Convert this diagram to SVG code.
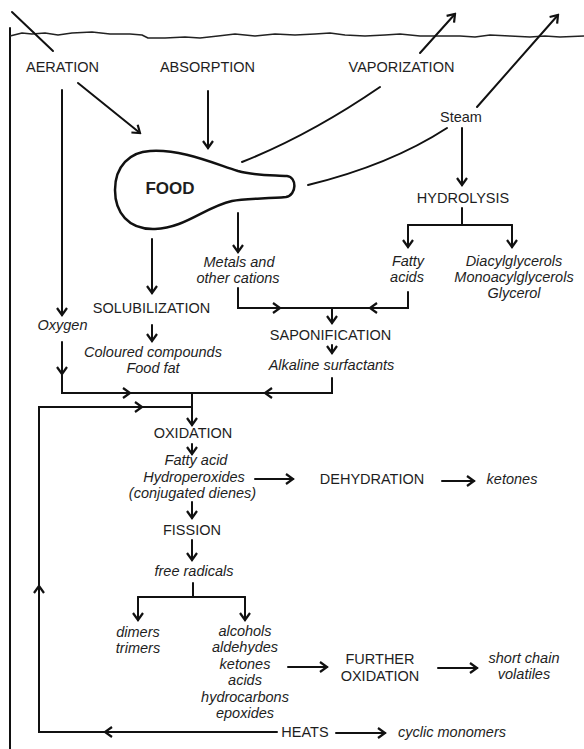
<svg xmlns="http://www.w3.org/2000/svg" width="584" height="749" viewBox="0 0 584 749">
<defs>
<style>
.t{font-family:"Liberation Sans",Arial,sans-serif;font-size:14.5px;fill:#1e1e1e;text-anchor:middle}
.i{font-style:italic}
.b{font-weight:bold;font-size:17px}
.ln{fill:none;stroke:#111;stroke-width:2;stroke-linecap:round;stroke-linejoin:miter}
.a{marker-end:url(#ah)}
</style>
<marker id="ah" viewBox="-10 -7 12 14" refX="0" refY="0" markerWidth="12" markerHeight="14" markerUnits="userSpaceOnUse" orient="auto">
<path d="M-7,-5 L0,0 L-7,5" fill="none" stroke="#111" stroke-width="2.2" stroke-linejoin="miter"/>
</marker>
</defs>
<rect width="584" height="749" fill="#fff"/>

<g id="scene">
<path d="M10,28 L10,749" class="ln" stroke-width="1.6"/>
<path d="M10,36 L22,33 L32,34 L45,33 L58,35 L72,33 L92,32 L110,34 L130,34 L142,35 L148,38 L165,38 L185,37 L200,38 L218,36 L235,34 L255,36 L275,34 L295,35 L315,34 L330,33 L345,35 L365,36 L385,35 L400,34 L420,36 L440,36 L460,36 L475,37 L490,35 L510,36 L530,37 L545,36 L560,37 L584,36" fill="none" stroke="#222" stroke-width="1.5" stroke-linejoin="round"/>
<path d="M12,12 L53,51" class="ln"/>
</g>

<g id="food">
<path d="M150,151 C180,149 210,162 238,171 C255,176 275,175 287,176 C297,177 297,195 286,197 C265,199 245,198 232,201 C205,207 185,228 155,229 C128,230 115,212 115,190 C115,166 130,152 150,151 Z" fill="none" stroke="#111" stroke-width="2.5"/>
<text class="t b" x="170" y="194">FOOD</text>
</g>

<g id="aeration"><text class="t" x="62.5" y="72">AERATION</text></g>
<g id="absorption"><text class="t" x="207.5" y="72">ABSORPTION</text></g>
<g id="vaporization"><text class="t" x="401.5" y="72">VAPORIZATION</text></g>
<g id="steam"><text class="t" x="461" y="122">Steam</text></g>
<g id="hydrolysis"><text class="t" x="463" y="203">HYDROLYSIS</text></g>
<g id="fatty-acids"><text class="t i" x="408" y="266">Fatty</text><text class="t i" x="407" y="282">acids</text></g>
<g id="glycerols"><text class="t i" x="514" y="266">Diacylglycerols</text><text class="t i" x="514" y="282">Monoacylglycerols</text><text class="t i" x="514" y="298">Glycerol</text></g>
<g id="metals"><text class="t i" x="239" y="267">Metals and</text><text class="t i" x="238" y="283">other cations</text></g>
<g id="solubilization"><text class="t" x="151.5" y="313">SOLUBILIZATION</text></g>
<g id="oxygen"><text class="t i" x="62.5" y="330">Oxygen</text></g>
<g id="saponification"><text class="t" x="330.5" y="340">SAPONIFICATION</text></g>
<g id="coloured"><text class="t i" x="153" y="357">Coloured compounds</text><text class="t i" x="153" y="373">Food fat</text></g>
<g id="alkaline"><text class="t i" x="331.5" y="370">Alkaline surfactants</text></g>
<g id="oxidation"><text class="t" x="193" y="438">OXIDATION</text></g>
<g id="hydroperoxides"><text class="t i" x="196" y="465">Fatty acid</text><text class="t i" x="194" y="482">Hydroperoxides</text><text class="t i" x="192.5" y="498">(conjugated dienes)</text></g>
<g id="dehydration"><text class="t" x="372" y="484">DEHYDRATION</text></g>
<g id="ketones1"><text class="t i" x="512" y="484">ketones</text></g>
<g id="fission"><text class="t" x="192" y="535">FISSION</text></g>
<g id="free-radicals"><text class="t i" x="194" y="576">free radicals</text></g>
<g id="dimers"><text class="t i" x="138" y="637">dimers</text><text class="t i" x="138" y="653">trimers</text></g>
<g id="products"><text class="t i" x="245" y="636">alcohols</text><text class="t i" x="245" y="652">aldehydes</text><text class="t i" x="245" y="669">ketones</text><text class="t i" x="245" y="685">acids</text><text class="t i" x="245" y="702">hydrocarbons</text><text class="t i" x="245" y="718">epoxides</text></g>
<g id="further-oxidation"><text class="t" x="380" y="664">FURTHER</text><text class="t" x="380" y="681">OXIDATION</text></g>
<g id="short-chain"><text class="t i" x="524" y="663">short chain</text><text class="t i" x="524" y="679">volatiles</text></g>
<g id="heats"><text class="t" x="305" y="737">HEATS</text></g>
<g id="cyclic"><text class="t i" x="452" y="737">cyclic monomers</text></g>

<g id="connectors">
<path class="ln a" d="M78,83 L140,133"/>
<path class="ln a" d="M62,90 L62,315"/>
<path class="ln a" d="M208,91 L208,148"/>
<path class="ln" d="M242,162 Q310,135 380,87"/>
<path class="ln a" d="M420,53 L455,14"/>
<path class="ln a" d="M477,107 L558,15"/>
<path class="ln" d="M308,185 Q390,165 447,128"/>
<path class="ln a" d="M462,128 L462,185"/>
<path class="ln" d="M462,208 L462,225"/>
<path class="ln" d="M408,225 L512,225"/>
<path class="ln a" d="M408,225 L408,247"/>
<path class="ln a" d="M512,225 L512,247"/>
<path class="ln a" d="M238,213 L238,252"/>
<path class="ln a" d="M152,239 L152,293"/>
<path class="ln a" d="M152,325 L152,341"/>
<path class="ln a" d="M238,288 L238,308 L280,308"/>
<path class="ln" d="M277,308 L408,308"/>
<path class="ln a" d="M408,292 L408,308 L370,308"/>
<path class="ln a" d="M332,308 L332,323"/>
<path class="ln a" d="M332,345 L332,353"/>
<path class="ln a" d="M62,342 L62,374"/>
<path class="ln a" d="M62,372 L62,393 L130,393"/>
<path class="ln" d="M128,393 L192,393"/>
<path class="ln a" d="M332,378 L332,393 L265,393"/>
<path class="ln" d="M267,393 L192,393"/>
<path class="ln a" d="M192,393 L192,425"/>
<path class="ln a" d="M192,444 L192,454"/>
<path class="ln a" d="M255,479 L293,479"/>
<path class="ln a" d="M442,481 L474,481" stroke-width="2.5"/>
<path class="ln a" d="M192,502 L192,518"/>
<path class="ln a" d="M192,540 L192,560"/>
<path class="ln" d="M193,583 L193,597"/>
<path class="ln" d="M138,597 L245,597"/>
<path class="ln a" d="M138,597 L138,620"/>
<path class="ln a" d="M245,597 L245,620"/>
<path class="ln a" d="M288,667 L327,667"/>
<path class="ln a" d="M438,668 L477,668"/>
<path class="ln a" d="M277,732 L105,732"/>
<path class="ln a" d="M107,732 L39,732 L39,586"/>
<path class="ln a" d="M39,588 L39,407 L142,407"/>
<path class="ln" d="M140,407 L192,407"/>
<path class="ln a" d="M336,733 L385,733"/>
</g>
</svg>
